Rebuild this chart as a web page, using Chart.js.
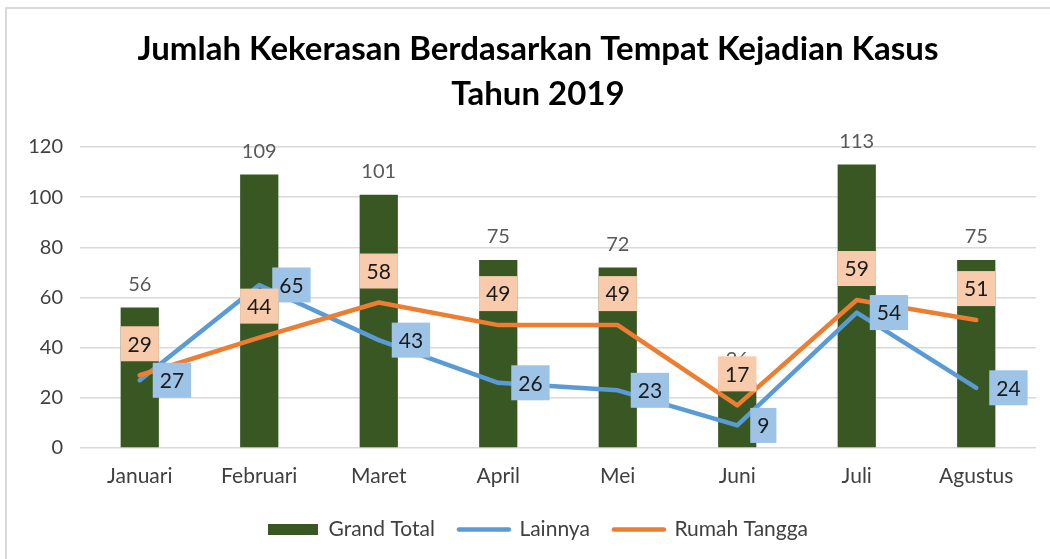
<!DOCTYPE html>
<html>
<head>
<meta charset="utf-8">
<title>Jumlah Kekerasan Berdasarkan Tempat Kejadian Kasus</title>
<script src="https://cdn.jsdelivr.net/npm/chart.js@4.4.0/dist/chart.umd.min.js"></script>
<style>
  html, body { margin: 0; padding: 0; background: #fff; overflow: hidden; }
  #wrap { position: absolute; left: 0; top: 0; width: 1076px; height: 559px; }
  #frame { position: absolute; left: 5px; top: 7px; width: 1100px; height: 600px; border: 2px solid #d9d9d9; pointer-events: none; }
</style>
</head>
<body>
<div id="wrap"><canvas id="grafik_kasus"></canvas></div>
<div id="frame"></div>
<script>
// data bulanan 2019
const bulan = ["Januari", "Februari", "Maret", "April", "Mei", "Juni", "Juli", "Agustus"];
const grandTotal = [56, 109, 101, 75, 72, 26, 113, 75];
const lainnya = [27, 65, 43, 26, 23, 9, 54, 24];
const rumahTangga = [29, 44, 58, 49, 49, 17, 59, 51];
const judul = ["Jumlah Kekerasan Berdasarkan Tempat Kejadian Kasus", "Tahun 2019"];
const sumbuY = { min: 0, max: 120, step: 20 };

const fontUtama = "Lato";

// label nilai di atas batang dan kotak label untuk garis
const labelNilai = {
  id: "labelNilai",
  afterDatasetsDraw(chart) {
    const ctx = chart.ctx;
    ctx.save();
    ctx.textAlign = "center";
    ctx.textBaseline = "middle";

    // Grand Total: angka abu-abu di atas batang
    ctx.font = "20px " + fontUtama;
    ctx.fillStyle = "#595959";
    chart.getDatasetMeta(0).data.forEach(function (el, i) {
      ctx.fillText(grandTotal[i], el.x, el.y - 23);
    });

    ctx.font = "21px " + fontUtama;
    const tinggi = 35;

    // Lainnya: kotak biru di kanan titik
    chart.getDatasetMeta(1).data.forEach(function (el, i) {
      const teks = String(lainnya[i]);
      const lebar = ctx.measureText(teks).width + 14;
      const kiri = el.x + 13;
      ctx.fillStyle = "#9DC3E6";
      ctx.fillRect(kiri, el.y - tinggi / 2, lebar, tinggi);
      ctx.fillStyle = "#1a1a1a";
      ctx.fillText(teks, kiri + lebar / 2, el.y + 1);
    });

    // Rumah Tangga: kotak oranye muda di atas titik
    chart.getDatasetMeta(2).data.forEach(function (el, i) {
      const teks = String(rumahTangga[i]);
      const lebar = ctx.measureText(teks).width + 14;
      const bawah = el.y - 14;
      ctx.fillStyle = "#F8CBAD";
      ctx.fillRect(el.x - lebar / 2, bawah - tinggi, lebar, tinggi);
      ctx.fillStyle = "#1a1a1a";
      ctx.fillText(teks, el.x, bawah - tinggi / 2 + 1);
    });

    ctx.restore();
  },
};

const ctx = document.getElementById("grafik_kasus").getContext("2d");
const grafik = new Chart(ctx, {
  type: "bar",
  data: {
    labels: bulan,
    datasets: [
      {
        label: "Grand Total",
        data: grandTotal,
        backgroundColor: "#385723",
        borderWidth: 0,
        barPercentage: 0.32,
        categoryPercentage: 1,
        order: 3,
      },
      {
        type: "line",
        label: "Lainnya",
        data: lainnya,
        borderColor: "#5B9BD5",
        backgroundColor: "#5B9BD5",
        borderWidth: 4.5,
        borderCapStyle: "round",
        borderJoinStyle: "round",
        pointRadius: 0,
        tension: 0,
        order: 2,
      },
      {
        type: "line",
        label: "Rumah Tangga",
        data: rumahTangga,
        borderColor: "#ED7D31",
        backgroundColor: "#ED7D31",
        borderWidth: 4.5,
        borderCapStyle: "round",
        borderJoinStyle: "round",
        pointRadius: 0,
        tension: 0,
        order: 1,
      },
    ],
  },
  options: {
    responsive: true,
    maintainAspectRatio: false,
    animation: false,
    layout: {
      padding: { left: 0, right: 0, top: 0, bottom: 9 },
    },
    scales: {
      x: {
        afterFit: function (scale) {
          scale.height = 47;
        },
        grid: { display: false, drawTicks: false },
        border: { display: false },
        ticks: {
          color: "#404040",
          padding: 16,
          font: { family: fontUtama, size: 21 },
        },
      },
      y: {
        min: sumbuY.min,
        max: sumbuY.max,
        afterFit: function (scale) {
          scale.width = 80;
        },
        grid: { color: "#D9D9D9", lineWidth: 1.5, drawTicks: false },
        border: { display: false },
        ticks: {
          stepSize: sumbuY.step,
          color: "#404040",
          padding: 17,
          font: { family: fontUtama, size: 20 },
        },
      },
      // sumbu kosong di kanan, hanya untuk memberi ruang
      kanan: {
        type: "linear",
        position: "right",
        afterFit: function (scale) {
          scale.width = 40;
        },
        grid: { display: false, drawTicks: false },
        border: { display: false },
        ticks: { display: false },
      },
    },
    plugins: {
      title: {
        display: true,
        text: judul,
        color: "#000",
        font: { family: fontUtama, size: 33, weight: "bold", lineHeight: 1.364 },
        padding: { top: 27, bottom: 30 },
      },
      legend: {
        position: "bottom",
        labels: {
          color: "#404040",
          font: { family: fontUtama, size: 21 },
          boxWidth: 50,
          boxHeight: 11,
          padding: 24,
          usePointStyle: true,
          pointStyleWidth: 50,
          sort: function (a, b) {
            return a.datasetIndex - b.datasetIndex;
          },
          generateLabels: function (chart) {
            const items = Chart.defaults.plugins.legend.labels.generateLabels(chart);
            items.forEach(function (item) {
              if (item.datasetIndex === 0) {
                item.pointStyle = "rect";
                item.lineWidth = 0;
              } else {
                item.pointStyle = "line";
                item.lineWidth = 4.5;
                item.lineCap = "round";
              }
            });
            return items;
          },
        },
      },
      tooltip: { enabled: false },
    },
  },
  plugins: [labelNilai],
});
</script>
</body>
</html>
